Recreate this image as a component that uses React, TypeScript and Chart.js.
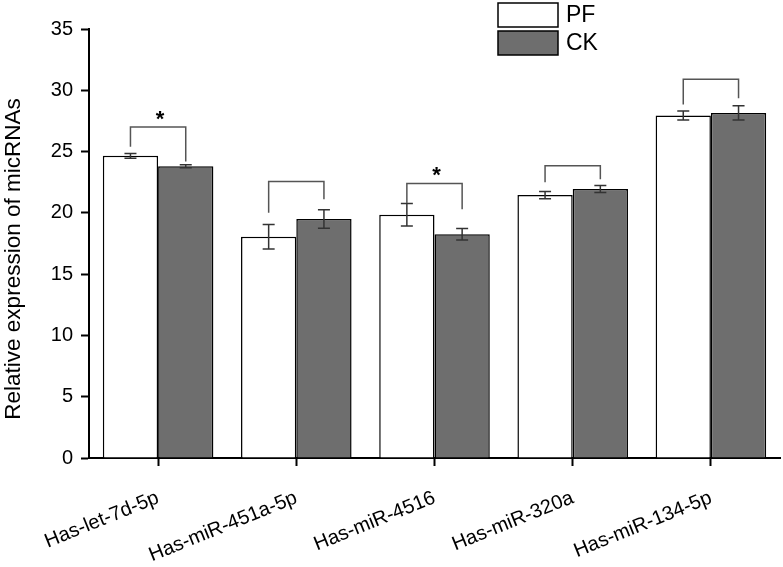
import React, { useEffect, useRef } from "react";
import { Chart, registerables } from "chart.js";

Chart.register(...registerables);

const categories = ["Has-let-7d-5p", "Has-miR-451a-5p", "Has-miR-4516", "Has-miR-320a", "Has-miR-134-5p"];
const pfValues = [24.65, 18.05, 19.85, 21.45, 27.95];
const pfErrors = [0.2, 1.0, 0.92, 0.3, 0.37];
const ckValues = [23.8, 19.5, 18.25, 21.95, 28.15];
const ckErrors = [0.12, 0.76, 0.47, 0.28, 0.58];
const bracketTop = [27.0, 22.55, 22.4, 23.85, 30.9];
const bracketLeftEnd = [25.4, 20.0, 20.8, 22.5, 28.85];
const bracketRightEnd = [24.2, 21.1, 20.3, 22.75, 29.35];
const significance = ["*", "", "*", "", ""];
const yTicks = [0, 5, 10, 15, 20, 25, 30, 35];
const seriesNames = ["PF", "CK"];
const yTitle = "Relative expression of micRNAs";

const FONT = "'Liberation Sans', Arial, Helvetica, sans-serif";
const PF_COLOR = "#ffffff";
const CK_COLOR = "#6e6e6e";

const overlayPlugin = {
  id: "overlay",
  afterDatasetsDraw(chart: any) {
    const ctx = chart.ctx;
    const y = chart.scales.y;
    const m0 = chart.getDatasetMeta(0);
    const m1 = chart.getDatasetMeta(1);
    ctx.save();
    const drawErr = (x: number, v: number, e: number) => {
      const t = y.getPixelForValue(v + e);
      const b = y.getPixelForValue(v - e);
      ctx.strokeStyle = "#333333";
      ctx.lineWidth = 1.5;
      ctx.beginPath();
      ctx.moveTo(x, t);
      ctx.lineTo(x, b);
      ctx.moveTo(x - 6, t);
      ctx.lineTo(x + 6, t);
      ctx.moveTo(x - 6, b);
      ctx.lineTo(x + 6, b);
      ctx.stroke();
    };
    categories.forEach((_, i) => {
      drawErr(m0.data[i].x, pfValues[i], pfErrors[i]);
      drawErr(m1.data[i].x, ckValues[i], ckErrors[i]);
      const xl = m0.data[i].x;
      const xr = m1.data[i].x;
      const yt = y.getPixelForValue(bracketTop[i]);
      ctx.strokeStyle = "#555555";
      ctx.lineWidth = 1.5;
      ctx.beginPath();
      ctx.moveTo(xl, y.getPixelForValue(bracketLeftEnd[i]));
      ctx.lineTo(xl, yt);
      ctx.lineTo(xr, yt);
      ctx.lineTo(xr, y.getPixelForValue(bracketRightEnd[i]));
      ctx.stroke();
      if (significance[i]) {
        ctx.fillStyle = "#000";
        ctx.font = `bold 22px ${FONT}`;
        ctx.textAlign = "center";
        ctx.textBaseline = "alphabetic";
        ctx.fillText(significance[i], (xl + xr) / 2 + 2, yt - 1);
      }
    });
    const boxes = [
      { y: 3, color: PF_COLOR, label: seriesNames[0] },
      { y: 31, color: CK_COLOR, label: seriesNames[1] },
    ];
    boxes.forEach((b) => {
      ctx.fillStyle = b.color;
      ctx.fillRect(498, b.y, 60, 24);
      ctx.strokeStyle = "#000";
      ctx.lineWidth = 1.5;
      ctx.strokeRect(498, b.y, 60, 24);
      ctx.fillStyle = "#000";
      ctx.font = `23px ${FONT}`;
      ctx.textAlign = "left";
      ctx.textBaseline = "middle";
      ctx.fillText(b.label, 566, b.y + 13);
    });
    ctx.translate(14, 259);
    ctx.rotate(-Math.PI / 2);
    ctx.fillStyle = "#000";
    ctx.font = `22.5px ${FONT}`;
    ctx.textAlign = "center";
    ctx.textBaseline = "middle";
    ctx.fillText(yTitle, 0, 0);
    ctx.restore();
  },
};

export default function App() {
  const ref = useRef<HTMLCanvasElement>(null);
  useEffect(() => {
    document.body.style.margin = "0";
    const chart = new Chart(ref.current as HTMLCanvasElement, {
      type: "bar",
      data: {
        labels: categories,
        datasets: [
          {
            label: seriesNames[0],
            data: pfValues,
            backgroundColor: PF_COLOR,
            borderColor: "#000",
            borderWidth: 1.5,
            categoryPercentage: 0.8,
            barPercentage: 1.0,
          },
          {
            label: seriesNames[1],
            data: ckValues,
            backgroundColor: CK_COLOR,
            borderColor: "#000",
            borderWidth: 1.5,
            categoryPercentage: 0.8,
            barPercentage: 1.0,
          },
        ],
      },
      options: {
        responsive: false,
        animation: false,
        layout: { padding: { top: 29, right: 3, left: 0, bottom: 0 } },
        plugins: { legend: { display: false }, tooltip: { enabled: false } },
        scales: {
          x: {
            offset: true,
            grid: {
              offset: false,
              drawOnChartArea: false,
              drawTicks: true,
              tickLength: 8,
              tickColor: "#000",
              tickWidth: 2,
            },
            border: { display: true, color: "#000", width: 2 },
            ticks: {
              color: "#000",
              font: { family: FONT, size: 20 },
              minRotation: 22,
              maxRotation: 22,
              padding: 20,
              autoSkip: false,
            },
            afterFit(scale: any) {
              scale.height = 109;
              scale.paddingLeft = 0;
              scale.paddingRight = 0;
            },
          },
          y: {
            min: 0,
            max: 35,
            afterBuildTicks(scale: any) {
              scale.ticks = yTicks.map((v) => ({ value: v }));
            },
            grid: {
              drawOnChartArea: false,
              drawTicks: true,
              tickLength: 8,
              tickColor: "#000",
              tickWidth: 2,
            },
            border: { display: true, color: "#000", width: 2 },
            ticks: {
              color: "#000",
              font: { family: FONT, size: 20 },
              padding: 8,
            },
            afterFit(scale: any) {
              scale.width = 89;
            },
          },
        },
      },
      plugins: [overlayPlugin],
    } as any);
    return () => chart.destroy();
  }, []);
  return (
    <div style={{ width: 783, height: 567 }}>
      <canvas ref={ref} width={783} height={567} style={{ display: "block" }} />
    </div>
  );
}
